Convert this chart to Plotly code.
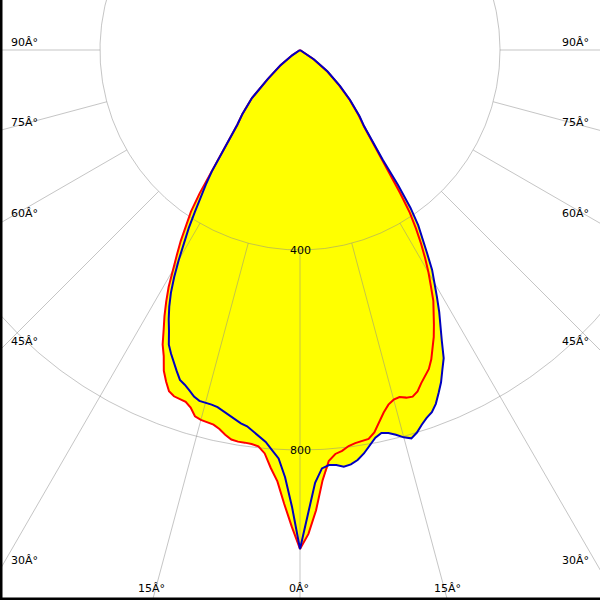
import numpy as np
import plotly.graph_objects as go

# gamma angles (degrees from nadir), same grid for each half-plane
gamma = [0, 1, 2, 3, 4, 5, 6, 7, 8, 9, 10, 11, 12, 13, 14, 15, 16, 17, 18, 19,
         20, 21, 22, 23, 24, 25, 26, 27, 28, 29, 30, 31, 32, 33, 34, 35, 36, 37,
         38, 40, 42, 45, 48, 52, 56, 60, 90]

# luminous intensity (cd) - red curve (C0-C180), left and right halves
red_left = [998, 953, 908, 864, 838, 810, 797, 794, 793, 793, 791, 784, 775, 769,
            767, 766, 762, 748, 740, 738, 737, 731, 715, 697, 670, 650, 622, 597,
            570, 542, 508, 478, 450, 420, 390, 350, 305, 265, 237, 195, 172, 136,
            85, 48, 18, 0, 0]
red_right = [998, 968, 921, 862, 824, 811, 806, 798, 794, 792, 790, 779, 761, 744,
             731, 724, 722, 727, 729, 722, 709, 698, 688, 672, 653, 633, 611, 590,
             568, 540, 514, 486, 457, 426, 393, 349, 300, 265, 235, 198, 175, 140,
             105, 68, 32, 0, 0]
# blue curve (C90-C270)
blue_left = [998, 914, 855, 818, 802, 787, 777, 768, 760, 756, 750, 743, 738, 733,
             731, 730, 730, 725, 716, 708, 702, 688, 674, 660, 645, 620, 599, 576,
             550, 519, 485, 452, 420, 386, 356, 328, 300, 262, 235, 195, 172, 136,
             87, 50, 19, 0, 0]
blue_right = [998, 930, 866, 838, 832, 833, 838, 835, 828, 817, 803, 790, 783, 786,
              793, 802, 808, 800, 788, 778, 771, 758, 740, 722, 700, 680, 647, 620,
              593, 565, 539, 513, 480, 452, 423, 385, 333, 275, 240, 200, 178, 142,
              108, 70, 34, 0, 0]

ring_values = [400, 800]
ring_labels = ["400", "800"]
spoke_angles = [0, 15, 30, 45, 60, 75, 90]
angle_labels = ["0Â°", "15Â°", "30Â°", "45Â°", "60Â°", "75Â°", "90Â°"]


def full_curve(left, right):
    g = np.concatenate([-np.array(gamma[::-1], float), np.array(gamma[1:], float)])
    i = np.concatenate([np.array(left[::-1], float), np.array(right[1:], float)])
    return g, i


def to_xy(g, i):
    t = np.radians(g)
    return i * np.sin(t), -i * np.cos(t)


gr, ir = full_curve(red_left, red_right)
gb, ib = full_curve(blue_left, blue_right)
imax = np.maximum(ir, ib)

fig = go.Figure()

# filled envelope
xf, yf = to_xy(gr, imax)
fig.add_trace(go.Scatter(x=xf, y=yf, mode="lines", fill="toself",
                         fillcolor="#ffff00", line=dict(width=0, color="#ffff00"),
                         hoverinfo="skip", showlegend=False))

grid_col = "rgba(140,140,140,0.5)"
# rings
th = np.linspace(0, 2 * np.pi, 721)
for rv in ring_values:
    fig.add_trace(go.Scatter(x=rv * np.sin(th), y=rv * np.cos(th), mode="lines",
                             line=dict(color=grid_col, width=1),
                             hoverinfo="skip", showlegend=False))
# spokes from first ring outward
for a in spoke_angles:
    for s in ([1] if a == 0 else [-1, 1]):
        g = np.array([s * a, s * a], float)
        i = np.array([ring_values[0], 2000.0])
        x, y = to_xy(g, i)
        fig.add_trace(go.Scatter(x=x, y=y, mode="lines",
                                 line=dict(color=grid_col, width=1),
                                 hoverinfo="skip", showlegend=False))

# curves
xr, yr = to_xy(gr, ir)
fig.add_trace(go.Scatter(x=xr, y=yr, mode="lines", line=dict(color="#ff0000", width=2),
                         hoverinfo="skip", showlegend=False))
xb, yb = to_xy(gb, ib)
fig.add_trace(go.Scatter(x=xb, y=yb, mode="lines", line=dict(color="#0000c0", width=2),
                         hoverinfo="skip", showlegend=False))

font = dict(family="DejaVu Sans", size=11, color="#000000")
ann = []


def px(xp, yp):
    return xp / 600.0, 1 - yp / 600.0


# angle labels
left_pos = {90: (9, 42), 75: (9, 122), 60: (9, 213), 45: (9, 342), 30: (9, 560)}
right_pos = {90: (591, 42), 75: (591, 122), 60: (591, 213), 45: (591, 342), 30: (591, 560)}
for a, lab in zip(spoke_angles, angle_labels):
    if a in left_pos:
        x, y = px(*left_pos[a])
        ann.append(dict(x=x, y=y, text=lab, xanchor="left", yanchor="middle"))
        x, y = px(*right_pos[a])
        ann.append(dict(x=x, y=y, text=lab, xanchor="right", yanchor="middle"))
    elif a == 15:
        x, y = px(151, 588)
        ann.append(dict(x=x, y=y, text=lab, xanchor="center", yanchor="middle"))
        x, y = px(447, 588)
        ann.append(dict(x=x, y=y, text=lab, xanchor="center", yanchor="middle"))
    else:
        x, y = px(299, 588)
        ann.append(dict(x=x, y=y, text=lab, xanchor="center", yanchor="middle"))

# ring value labels
for rv, lab in zip(ring_values, ring_labels):
    ann.append(dict(x=0, y=-rv, xref="x", yref="y", text=lab,
                    xanchor="center", yanchor="middle", font=font, showarrow=False))

for a in ann:
    a.setdefault("xref", "paper")
    a.setdefault("yref", "paper")
    a.setdefault("showarrow", False)
    a.setdefault("font", font)

fig.update_layout(
    width=600, height=600,
    margin=dict(l=0, r=0, t=0, b=0),
    paper_bgcolor="white", plot_bgcolor="white",
    xaxis=dict(range=[-600, 600], visible=False, fixedrange=True),
    yaxis=dict(range=[-1100, 100], visible=False, fixedrange=True),
    annotations=ann,
    shapes=[
        dict(type="line", xref="paper", yref="paper", x0=0, y0=0, x1=0, y1=1,
             line=dict(color="black", width=5)),
        dict(type="line", xref="paper", yref="paper", x0=0, y0=0, x1=1, y1=0,
             line=dict(color="black", width=5)),
    ],
)

fig.write_html("out.html", config={"displayModeBar": False},
               post_script="document.body.style.margin='0';document.body.style.overflow='hidden';")
